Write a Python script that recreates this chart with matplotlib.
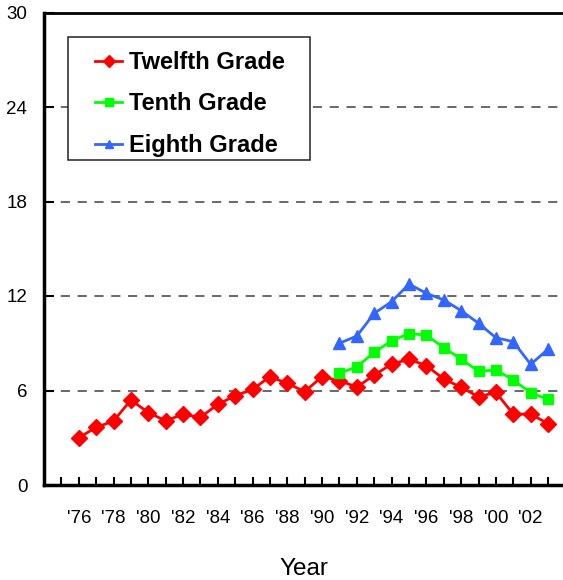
import matplotlib
matplotlib.use("Agg")
import matplotlib.pyplot as plt
from matplotlib.legend_handler import HandlerLine2D
from matplotlib.patches import Rectangle

years = list(range(1976, 2004))
twelfth = [3.0, 3.66, 4.06, 5.4, 4.6, 4.08, 4.49, 4.3, 5.12, 5.67, 6.07, 6.88, 6.45, 5.93,
           6.88, 6.62, 6.22, 6.98, 7.68, 7.98, 7.58, 6.73, 6.2, 5.6, 5.88, 4.5, 4.5, 3.9]
years_lower = list(range(1991, 2004))
tenth = [7.09, 7.51, 8.42, 9.16, 9.61, 9.52, 8.72, 8.0, 7.22, 7.3, 6.67, 5.86, 5.44]
eighth = [9.0, 9.46, 10.9, 11.64, 12.76, 12.17, 11.75, 11.07, 10.27, 9.35, 9.1, 7.66, 8.62]
xtick_years = list(range(1976, 2004, 2))
xtick_labels = ["'%02d" % (y % 100) for y in xtick_years]
yticks = [0, 6, 12, 18, 24, 30]

plt.rcParams['font.family'] = ['Liberation Sans', 'DejaVu Sans']

LEG_FS = 17.0
LINE_EM = 1.15


class OffsetHandler(HandlerLine2D):
    def get_xdata(self, legend, xdescent, ydescent, width, height, fontsize):
        L = LINE_EM * fontsize
        end = -xdescent + width
        start = end - L
        return [start, end], [start + L / 2.0]


fig = plt.figure(figsize=(5.63, 5.80), dpi=100)
ax = fig.add_axes([44/563, 95/580, 1 - 44/563, (485-12.5)/580])

for v in [6, 12, 18, 24]:
    ax.axhline(v, color='#404040', lw=1.1, dashes=(6, 5), zorder=1)

ax.plot(years, twelfth, color='#FF0000', lw=2, marker='D', ms=7.8, label='Twelfth Grade', zorder=3)
ax.plot(years_lower, tenth, color='#00FF00', lw=2, marker='s', ms=7.5, label='Tenth Grade', zorder=3)
ax.plot(years_lower, eighth, color='#3366FF', lw=2, marker='^', ms=8.5, label='Eighth Grade', zorder=3)

ax.set_xlim(1974, 2003.86)
ax.set_ylim(0, 30)
ax.set_xticks(list(range(1975, 2004)), minor=True)
ax.set_xticks(xtick_years)
ax.set_xticklabels(xtick_labels, fontsize=13.5)
ax.set_yticks(yticks)
ax.set_yticklabels([str(v) for v in yticks], fontsize=13.5)
ax.tick_params(axis='x', which='both', direction='in', length=6, width=1.5, pad=18)
ax.tick_params(axis='y', direction='in', length=7, width=1.5, pad=12)
ax.spines['right'].set_visible(False)
for s in ['left', 'bottom']:
    ax.spines[s].set_linewidth(2.5)
ax.spines['top'].set_linewidth(2)
ax.set_xlabel('Year', fontsize=17.5, labelpad=22)

# legend frame
ax.add_patch(Rectangle((0.0462, 0.688), 0.4663, 0.26, transform=ax.transAxes,
                       facecolor='white', edgecolor='#222222', lw=1.1, zorder=4))

handles, labels = ax.get_legend_handles_labels()
leg = ax.legend(handles, labels, loc='upper left', bbox_to_anchor=(0.0983, 0.919), borderaxespad=0,
                prop={'weight': 'bold', 'size': LEG_FS}, frameon=False,
                handlelength=LINE_EM, handletextpad=0.28, labelspacing=0.79, borderpad=0,
                handler_map={h: OffsetHandler(numpoints=1) for h in handles})
leg.set_zorder(5)
for h in leg.legend_handles:
    h.set_markersize(6)

fig.savefig('out.png', dpi=100)
